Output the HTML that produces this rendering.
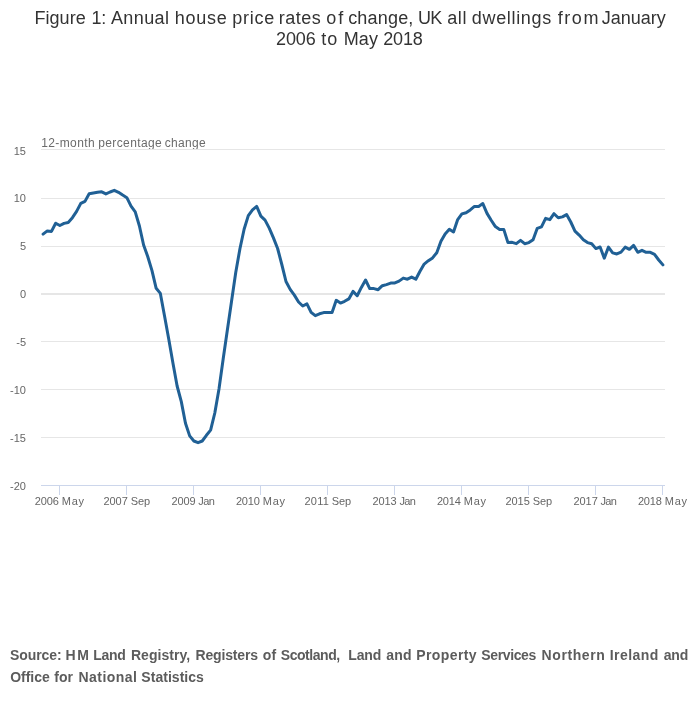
<!DOCTYPE html>
<html lang="en"><head><meta charset="utf-8"><title>Figure 1</title>
<style>
html,body{margin:0;padding:0;background:#fff;}
body{width:700px;height:707px;overflow:hidden;font-family:"Liberation Sans",sans-serif;}
svg{display:block;}
svg text{font-family:"Liberation Sans",sans-serif;}
</style></head><body>
<svg width="700" height="707" viewBox="0 0 700 707">
<rect width="700" height="707" fill="#ffffff"/>
<g font-size="18" fill="#333333">
<text y="24"><tspan x="34.39" textLength="51.41" lengthAdjust="spacing">Figure</tspan> <tspan x="91.38" textLength="14.89" lengthAdjust="spacing">1:</tspan> <tspan x="110.99" textLength="57.9" lengthAdjust="spacing">Annual</tspan> <tspan x="174.82" textLength="52.06" lengthAdjust="spacing">house</tspan> <tspan x="232.26" textLength="42.01" lengthAdjust="spacing">price</tspan> <tspan x="278.86" textLength="41.93" lengthAdjust="spacing">rates</tspan> <tspan x="326.15" textLength="17.24" lengthAdjust="spacing">of</tspan> <tspan x="348.13" textLength="65.26" lengthAdjust="spacing">change,</tspan> <tspan x="417.98" textLength="24.4" lengthAdjust="spacing">UK</tspan> <tspan x="447.14" textLength="19.33" lengthAdjust="spacing">all</tspan> <tspan x="471.82" textLength="79.32" lengthAdjust="spacing">dwellings</tspan> <tspan x="557.79" textLength="40.61" lengthAdjust="spacing">from</tspan> <tspan x="601.78" textLength="63.88" lengthAdjust="spacing">January</tspan></text>
<text y="45"><tspan x="276.01" textLength="39.79" lengthAdjust="spacing">2006</tspan> <tspan x="321.33" textLength="15.91" lengthAdjust="spacing">to</tspan> <tspan x="343.63" textLength="34.3" lengthAdjust="spacing">May</tspan> <tspan x="383.2" textLength="39.69" lengthAdjust="spacing">2018</tspan></text>
</g>
<g font-size="12" fill="#6b6b6b"><text y="146.8"><tspan x="41.24" textLength="53.36" lengthAdjust="spacing">12-month</tspan> <tspan x="98.16" textLength="63.64" lengthAdjust="spacing">percentage</tspan> <tspan x="164.84" textLength="40.83" lengthAdjust="spacing">change</tspan></text></g>
<rect x="41" y="149" width="624" height="1" fill="#e6e6e6"/><rect x="41" y="198" width="624" height="1" fill="#e6e6e6"/><rect x="41" y="246" width="624" height="1" fill="#e6e6e6"/><rect x="41" y="341" width="624" height="1" fill="#e6e6e6"/><rect x="41" y="389" width="624" height="1" fill="#e6e6e6"/><rect x="41" y="437" width="624" height="1" fill="#e6e6e6"/>
<rect x="41" y="293" width="624" height="2" fill="#e6e6e6"/>
<rect x="41" y="485" width="624" height="1" fill="#ccd6eb"/>
<rect x="59" y="485" width="1" height="10" fill="#ccd6eb"/><rect x="126" y="485" width="1" height="10" fill="#ccd6eb"/><rect x="193" y="485" width="1" height="10" fill="#ccd6eb"/><rect x="260" y="485" width="1" height="10" fill="#ccd6eb"/><rect x="327" y="485" width="1" height="10" fill="#ccd6eb"/><rect x="394" y="485" width="1" height="10" fill="#ccd6eb"/><rect x="461" y="485" width="1" height="10" fill="#ccd6eb"/><rect x="528" y="485" width="1" height="10" fill="#ccd6eb"/><rect x="595" y="485" width="1" height="10" fill="#ccd6eb"/><rect x="662" y="485" width="1" height="10" fill="#ccd6eb"/>
<g font-size="11" fill="#666666"><text x="26" y="154.8" text-anchor="end">15</text><text x="26" y="202" text-anchor="end">10</text><text x="26" y="250" text-anchor="end">5</text><text x="26" y="298" text-anchor="end">0</text><text x="26" y="346" text-anchor="end">-5</text><text x="26" y="394" text-anchor="end">-10</text><text x="26" y="442" text-anchor="end">-15</text><text x="26" y="490" text-anchor="end">-20</text><text y="505"><tspan x="34.87" textLength="23.93" lengthAdjust="spacing">2006</tspan> <tspan x="61.81" textLength="22.17" lengthAdjust="spacing">May</tspan></text><text y="505"><tspan x="103.46" textLength="24.29" lengthAdjust="spacing">2007</tspan> <tspan x="130.78" textLength="19.27" lengthAdjust="spacing">Sep</tspan></text><text y="505"><tspan x="171.50" textLength="24.22" lengthAdjust="spacing">2009</tspan> <tspan x="198.37" textLength="16.55" lengthAdjust="spacing">Jan</tspan></text><text y="505"><tspan x="235.89" textLength="23.93" lengthAdjust="spacing">2010</tspan> <tspan x="262.83" textLength="22.17" lengthAdjust="spacing">May</tspan></text><text y="505"><tspan x="304.48" textLength="24.29" lengthAdjust="spacing">2011</tspan> <tspan x="331.80" textLength="19.27" lengthAdjust="spacing">Sep</tspan></text><text y="505"><tspan x="372.52" textLength="24.22" lengthAdjust="spacing">2013</tspan> <tspan x="399.39" textLength="16.55" lengthAdjust="spacing">Jan</tspan></text><text y="505"><tspan x="436.91" textLength="23.93" lengthAdjust="spacing">2014</tspan> <tspan x="463.85" textLength="22.17" lengthAdjust="spacing">May</tspan></text><text y="505"><tspan x="505.50" textLength="24.29" lengthAdjust="spacing">2015</tspan> <tspan x="532.82" textLength="19.27" lengthAdjust="spacing">Sep</tspan></text><text y="505"><tspan x="573.54" textLength="24.22" lengthAdjust="spacing">2017</tspan> <tspan x="600.41" textLength="16.55" lengthAdjust="spacing">Jan</tspan></text><text y="505"><tspan x="637.93" textLength="23.93" lengthAdjust="spacing">2018</tspan> <tspan x="664.87" textLength="22.17" lengthAdjust="spacing">May</tspan></text></g>
<polyline fill="none" stroke="#206095" stroke-width="3" stroke-linejoin="round" stroke-linecap="round" points="43.09,234.10 47.28,230.90 51.47,231.40 55.66,223.20 59.85,225.50 64.03,223.40 68.22,222.50 72.41,217.70 76.60,211.40 80.79,203.40 84.97,201.40 89.16,193.80 93.35,193.00 97.54,192.30 101.72,191.80 105.91,193.90 110.10,192.00 114.29,190.30 118.48,192.30 122.66,195.10 126.85,197.70 131.04,206.10 135.23,211.80 139.42,226.00 143.60,245.00 147.79,256.70 151.98,270.60 156.17,288.30 160.36,293.40 164.54,316.00 168.73,339.00 172.92,363.00 177.11,386.00 181.30,401.60 185.48,423.30 189.67,435.90 193.86,441.00 198.05,442.70 202.23,441.00 206.42,435.30 210.61,430.10 214.80,413.00 218.99,389.00 223.17,359.00 227.36,330.00 231.55,301.20 235.74,272.50 239.93,248.70 244.11,229.30 248.30,215.60 252.49,209.90 256.68,206.40 260.87,216.10 265.05,220.10 269.24,228.10 273.43,237.90 277.62,248.50 281.81,264.50 285.99,281.50 290.18,289.40 294.37,295.10 298.56,302.00 302.74,306.00 306.93,303.90 311.12,312.30 315.31,315.70 319.50,313.80 323.68,312.60 327.87,312.50 332.06,312.50 336.25,300.30 340.44,303.10 344.62,301.30 348.81,298.90 353.00,291.40 357.19,295.70 361.38,287.40 365.56,280.00 369.75,288.60 373.94,288.60 378.13,289.70 382.32,285.70 386.50,284.60 390.69,283.10 394.88,282.90 399.07,281.10 403.26,278.10 407.44,279.20 411.63,277.10 415.82,279.20 420.01,271.20 424.19,264.05 428.38,260.70 432.57,257.90 436.76,252.70 440.95,241.30 445.13,233.90 449.32,229.30 453.51,231.90 457.70,219.60 461.89,213.90 466.07,212.70 470.26,209.90 474.45,206.40 478.64,206.40 482.83,203.60 487.01,213.35 491.20,220.20 495.39,226.60 499.58,229.40 503.77,229.40 507.95,242.60 512.14,242.30 516.33,243.70 520.52,240.30 524.70,243.70 528.89,242.60 533.08,239.70 537.27,228.30 541.46,226.80 545.64,218.30 549.83,219.70 554.02,213.70 558.21,217.80 562.40,216.90 566.58,214.60 570.77,222.00 574.96,231.10 579.15,235.10 583.34,239.70 587.52,242.60 591.71,243.70 595.90,248.60 600.09,247.00 604.28,258.15 608.46,247.10 612.65,252.85 616.84,253.95 621.03,252.15 625.21,247.10 629.40,249.30 633.59,245.40 637.78,252.30 641.97,250.30 646.15,252.30 650.34,252.30 654.53,254.30 658.72,260.00 662.91,264.90"/>
<g font-size="14" font-weight="bold" fill="#5c5c5c">
<text y="660"><tspan x="10.1" textLength="51.5" lengthAdjust="spacing">Source:</tspan> <tspan x="65.52" textLength="23.28" lengthAdjust="spacing">HM</tspan> <tspan x="93.2" textLength="32.6" lengthAdjust="spacing">Land</tspan> <tspan x="130.89" textLength="59.33" lengthAdjust="spacing">Registry,</tspan> <tspan x="195.52" textLength="62.51" lengthAdjust="spacing">Registers</tspan> <tspan x="262.86" textLength="13.34" lengthAdjust="spacing">of</tspan> <tspan x="280.76" textLength="59.46" lengthAdjust="spacing">Scotland,</tspan> <tspan x="348.2" textLength="33.12" lengthAdjust="spacing">Land</tspan> <tspan x="386.14" textLength="25.46" lengthAdjust="spacing">and</tspan> <tspan x="416.2" textLength="60.39" lengthAdjust="spacing">Property</tspan> <tspan x="481.34" textLength="54.9" lengthAdjust="spacing">Services</tspan> <tspan x="541.52" textLength="63.33" lengthAdjust="spacing">Northern</tspan> <tspan x="609.75" textLength="48.54" lengthAdjust="spacing">Ireland</tspan> <tspan x="663.65" textLength="24.67" lengthAdjust="spacing">and</tspan></text>
<text y="681.5"><tspan x="10.18" textLength="39.62" lengthAdjust="spacing">Office</tspan> <tspan x="54.22" textLength="18.72" lengthAdjust="spacing">for</tspan> <tspan x="78.52" textLength="58.46" lengthAdjust="spacing">National</tspan> <tspan x="141.34" textLength="62.52" lengthAdjust="spacing">Statistics</tspan></text>
</g>
</svg>
</body></html>
